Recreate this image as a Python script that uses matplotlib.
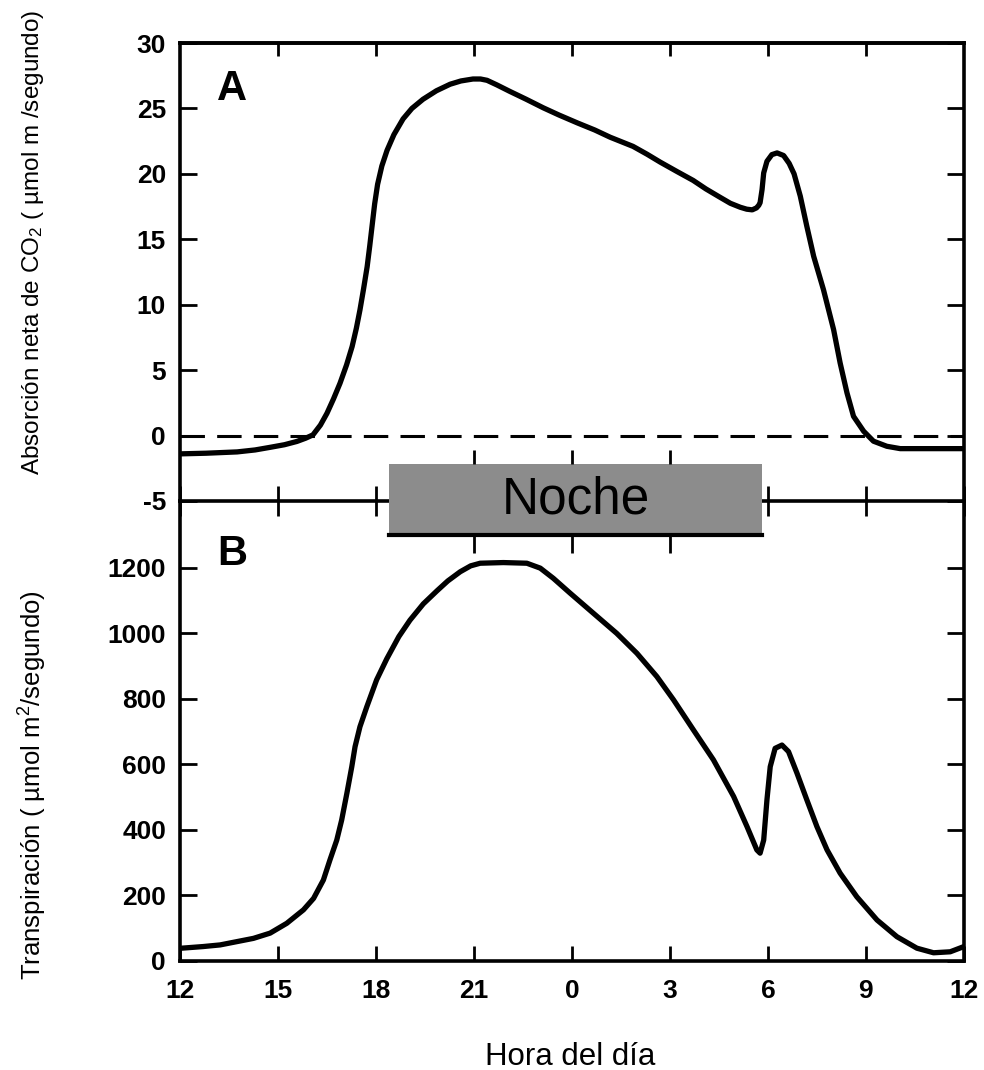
import matplotlib
matplotlib.use('Agg')
import matplotlib.pyplot as plt
from matplotlib.patches import Rectangle

plt.rcParams['font.family'] = ['Liberation Sans', 'DejaVu Sans']
plt.rcParams['mathtext.fontset'] = 'custom'
plt.rcParams['mathtext.rm'] = 'Liberation Sans'
plt.rcParams['mathtext.it'] = 'Liberation Sans:italic'
plt.rcParams['axes.unicode_minus'] = False

# hours are counted from noon of the first day (12 .. 36)
hours_co2 = [12.0, 12.8, 13.75, 14.3, 14.76, 15.2, 15.58, 15.85, 16.07, 16.3,
             16.5, 16.7, 16.9, 17.1, 17.27, 17.4, 17.51, 17.62, 17.73, 17.81,
             17.88, 17.96, 18.05, 18.18, 18.34, 18.55, 18.83, 19.1, 19.44, 19.85,
             20.27, 20.6, 20.97, 21.2, 21.4, 21.7, 22.1, 22.6, 23.12, 23.6,
             24.16, 24.7, 25.17, 25.87, 26.3, 26.7, 27.2, 27.71, 28.1, 28.54,
             28.85, 29.15, 29.35, 29.52, 29.65, 29.72, 29.76, 29.82, 29.87, 29.97,
             30.12, 30.28, 30.48, 30.65, 30.8, 30.99, 31.19, 31.4, 31.7, 32.01,
             32.21, 32.42, 32.62, 32.93, 33.23, 33.64, 34.05, 35.0, 36.0]
co2 = [-1.4, -1.35, -1.25, -1.1, -0.9, -0.7, -0.45, -0.2, 0.05, 0.8,
       1.7, 2.8, 4.0, 5.4, 6.8, 8.2, 9.6, 11.2, 12.9, 14.5,
       16.0, 17.7, 19.2, 20.6, 21.8, 23.0, 24.2, 25.0, 25.7, 26.35,
       26.85, 27.1, 27.25, 27.25, 27.15, 26.8, 26.3, 25.7, 25.05, 24.5,
       23.9, 23.35, 22.8, 22.1, 21.5, 20.9, 20.2, 19.5, 18.85, 18.2,
       17.75, 17.45, 17.3, 17.25, 17.4, 17.6, 17.8, 18.8, 20.07, 20.96,
       21.47, 21.6, 21.4, 20.8, 20.0, 18.3, 16.0, 13.7, 11.15, 8.1,
       5.55, 3.26, 1.47, 0.33, -0.43, -0.82, -1.0, -1.0, -1.0]

hours_transp = [12.05, 12.71, 13.23, 13.74, 14.25, 14.76, 15.27, 15.78, 16.09, 16.39,
                16.59, 16.8, 16.95, 17.11, 17.26, 17.36, 17.51, 17.72, 18.02, 18.33,
                18.7, 19.04, 19.45, 19.87, 20.2, 20.58, 20.9, 21.19, 21.9, 22.62,
                23.03, 23.43, 23.94, 24.66, 25.37, 25.99, 26.6, 27.11, 27.72, 28.33,
                28.95, 29.36, 29.66, 29.76, 29.87, 29.97, 30.07, 30.22, 30.43, 30.63,
                30.89, 31.19, 31.5, 31.81, 32.21, 32.72, 33.34, 33.95, 34.56, 35.07,
                35.58, 36.0]
transp = [39, 44, 49, 59, 69, 85, 115, 156, 191, 247,
          308, 369, 430, 512, 593, 654, 715, 776, 858, 922,
          990, 1040, 1090, 1130, 1160, 1188, 1206, 1214, 1216, 1214,
          1199, 1168, 1123, 1061, 1000, 939, 868, 797, 705, 614,
          502, 410, 339, 329, 369, 492, 593, 649, 659, 639,
          573, 492, 410, 339, 268, 196, 125, 74, 39, 25,
          28, 44]

hour_ticks = [12, 15, 18, 21, 24, 27, 30, 33, 36]
hour_labels = ['12', '15', '18', '21', '0', '3', '6', '9', '12']
co2_ticks = [-5, 0, 5, 10, 15, 20, 25, 30]
transp_ticks = [0, 200, 400, 600, 800, 1000, 1200]
night = (18.4, 29.83)

fig = plt.figure(figsize=(9.84, 10.70), dpi=100)
ax1 = fig.add_axes([0.1829, 0.5318, 0.7967, 0.428])
ax2 = fig.add_axes([0.1829, 0.1019, 0.7967, 0.4299])
ax1.set_zorder(3)
ax1.patch.set_alpha(0)

line_kw = dict(color='black', lw=3.8, solid_joinstyle='round', solid_capstyle='round')

# panel A: net CO2 uptake
ax1.axhline(0, color='black', lw=2.2, dashes=(8, 4), zorder=1)
ax1.plot(hours_co2, co2, **line_kw, zorder=2)
ax1.set_xlim(12, 36)
ax1.set_ylim(-5, 30)
ax1.set_xticks(hour_ticks)
ax1.set_yticks(co2_ticks)
ax1.tick_params(axis='x', direction='inout', length=21.6, width=2, labelbottom=False)
ax1.tick_params(axis='y', direction='in', length=12, width=2, left=True, right=True,
                labelsize=19, pad=10)
for lab in ax1.get_yticklabels():
    lab.set_fontweight('bold')
top = ax1.secondary_xaxis('top')
top.set_xticks(hour_ticks[1:-1])
top.tick_params(direction='in', length=9, width=2, labeltop=False)
top.spines['top'].set_linewidth(2.6)
for s in ax1.spines.values():
    s.set_linewidth(2.6)
ax1.text(0.066, 0.9, 'A', transform=ax1.transAxes, fontsize=30, fontweight='bold',
         ha='center', va='center')

# night bar across the two panels
ax1.add_patch(Rectangle((night[0], -7.6), night[1] - night[0], 5.4,
                        facecolor='#8c8c8c', edgecolor='none', clip_on=False, zorder=5))
ax1.plot(night, [-7.6, -7.6], color='black', lw=3, clip_on=False, zorder=6)
night_ticks = [h for h in hour_ticks if night[0] < h < night[1]]
ax1.vlines(night_ticks, -2.2, -1.07, color='black', lw=2, clip_on=False, zorder=6)
ax1.vlines(night_ticks, -8.95, -7.6, color='black', lw=2, clip_on=False, zorder=6)
ax1.text(sum(night) / 2, -4.9, 'Noche', fontsize=37, ha='center', va='center', zorder=7)

# panel B: transpiration
ax2.plot(hours_transp, transp, **line_kw)
ax2.set_xlim(12, 36)
ax2.set_ylim(0, 1404)
ax2.set_xticks(hour_ticks)
ax2.set_xticklabels(hour_labels, fontweight='bold')
ax2.set_yticks(transp_ticks)
ax2.tick_params(axis='x', direction='in', length=11, width=2, labelsize=19, pad=13)
ax2.tick_params(axis='y', direction='in', length=12, width=2, left=True, right=True,
                labelsize=19, pad=10)
for lab in ax2.get_yticklabels():
    lab.set_fontweight('bold')
ax2.spines['top'].set_visible(False)
for s in ax2.spines.values():
    s.set_linewidth(2.6)
ax2.text(0.067, 0.885, 'B', transform=ax2.transAxes, fontsize=30, fontweight='bold',
         ha='center', va='center')

fig.text(33 / 984, 1 - 242 / 1070, 'Absorción neta de CO$_2$ ( µmol m /segundo)',
         rotation=90, fontsize=17.5, ha='center', va='center')
fig.text(33 / 984, 1 - 785 / 1070, 'Transpiración ( µmol m$^2$/segundo)',
         rotation=90, fontsize=18.5, ha='center', va='center')
fig.text(570 / 984, 1 - 1057 / 1070, 'Hora del día', fontsize=22.5, ha='center', va='center')

fig.savefig('out.png', dpi=100)
